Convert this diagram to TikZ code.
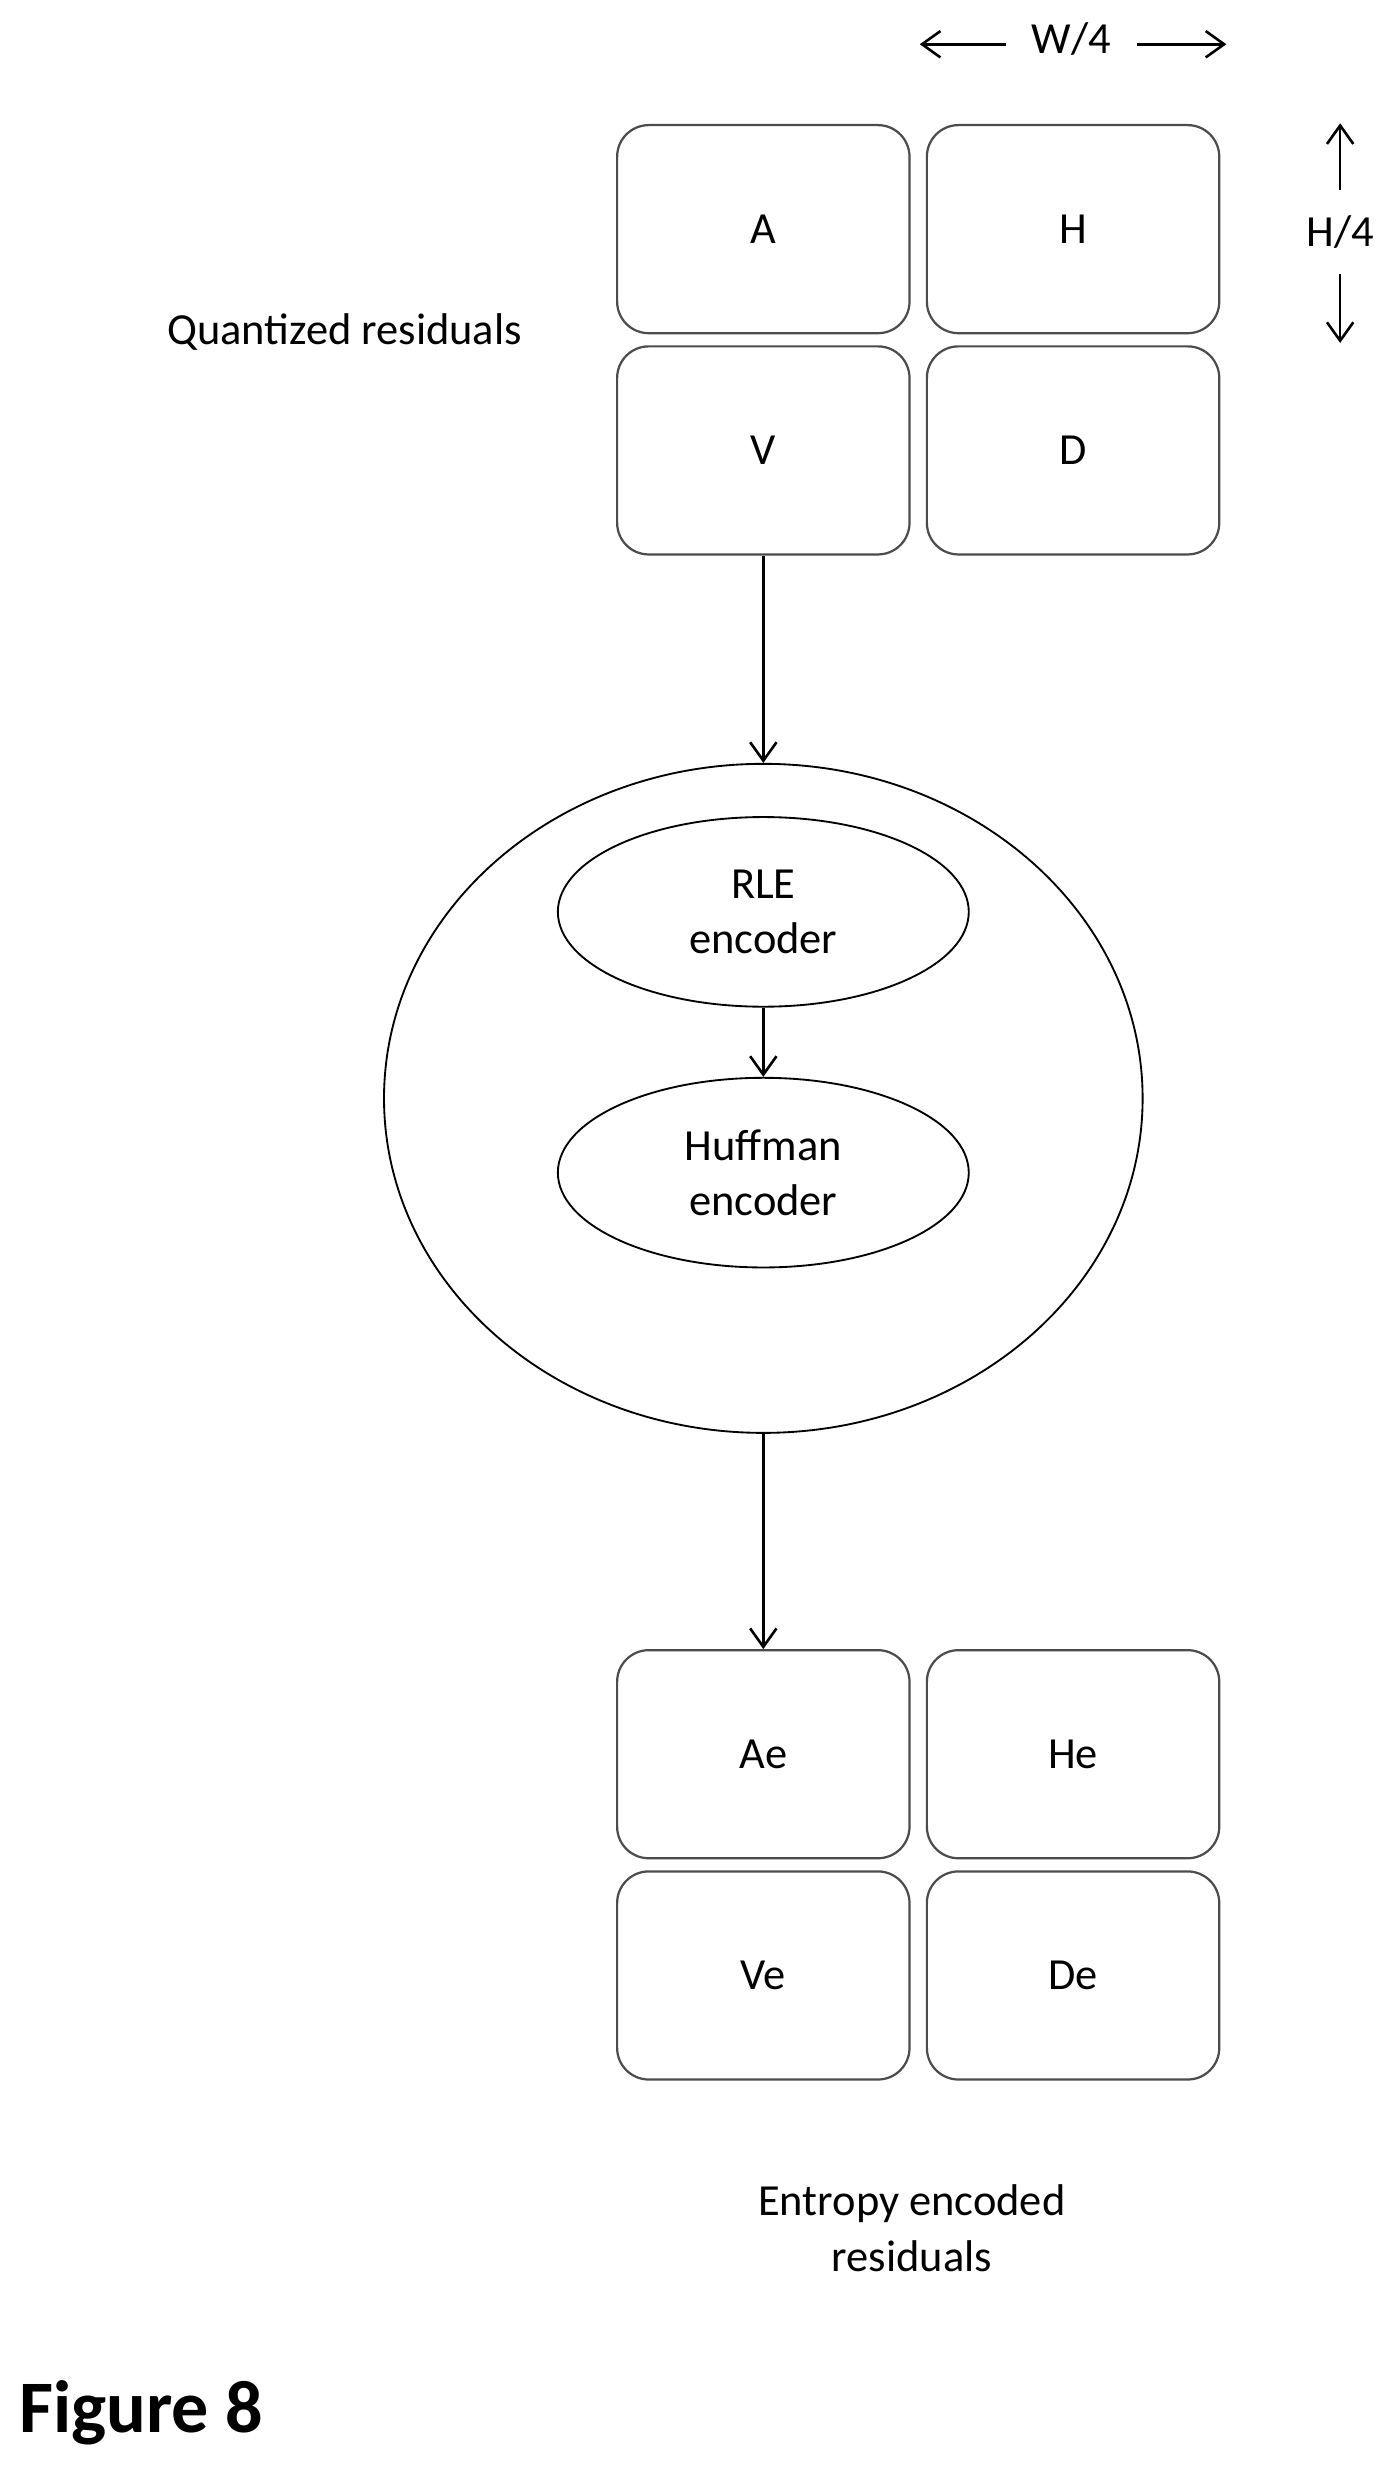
\documentclass[tikz,border=0pt]{standalone}
\usepackage{fontspec}
\setmainfont{Carlito}
\usetikzlibrary{arrows.meta,shapes.geometric}

\begin{document}
\begin{tikzpicture}[
	x=0.03cm, y=-0.03cm,
	every node/.style={align=center, font=\fontsize{24}{30}\selectfont},
	cell/.style={draw=black!70, line width=1.2pt, rounded corners=0.6cm, minimum width=5.55cm, minimum height=3.95cm},
	coder/.style={draw, ellipse, line width=1pt, minimum width=7.8cm, minimum height=3.6cm},
	arr/.style={-{Straight Barb[length=0.35cm, width=0.5cm]}, line width=1.4pt}
	]
	\useasboundingbox (0,0) rectangle (885,1568);
	
	% Quantized residuals
	\node[cell] (a) at (483,145) {A};
	\node[cell] (h) at (679,145) {H};
	\node[cell] (v) at (483,285) {V};
	\node[cell] (d) at (679,285) {D};
	\node (quant) at (218,210) {Quantized residuals};
	
	% Size marks
	\node (w4) at (678,25) {W/4};
	\coordinate (wl) at (582,28);
	\coordinate (wr) at (776,28);
	\draw[arr] (w4.west) ++(-12,3) -- (wl);
	\draw[arr] (w4.east) ++(12,3) -- (wr);
	\node (h4) at (848,147) {H/4};
	\coordinate (hu) at (848,78);
	\coordinate (hd) at (848,217);
	\draw[arr] (h4.north) ++(0,-12) -- (hu);
	\draw[arr] (h4.south) ++(0,12) -- (hd);
	
	% Entropy coder
	\node[draw, ellipse, line width=1pt, minimum width=14.4cm, minimum height=12.7cm] (coder) at (483,695) {};
	\node[coder] (rle) at (483,577) {RLE\\encoder};
	\node[coder] (huff) at (483,742) {Huffman\\encoder};
	
	% Entropy encoded residuals
	\node[cell] (ae) at (483,1110) {Ae};
	\node[cell] (he) at (679,1110) {He};
	\node[cell] (ve) at (483,1250) {Ve};
	\node[cell] (de) at (679,1250) {De};
	\node (enc) at (577,1410) {Entropy encoded\\residuals};
	
	\node[font=\fontsize{40}{48}\selectfont\bfseries, anchor=west] (fig) at (8,1527) {Figure 8};
	
	% Arrows
	\draw[arr] (v.south) -- (coder.north);
	\draw[arr] (rle) -- (huff);
	\draw[arr] (coder.south) -- (ae.north);
	
\end{tikzpicture}
\end{document}
